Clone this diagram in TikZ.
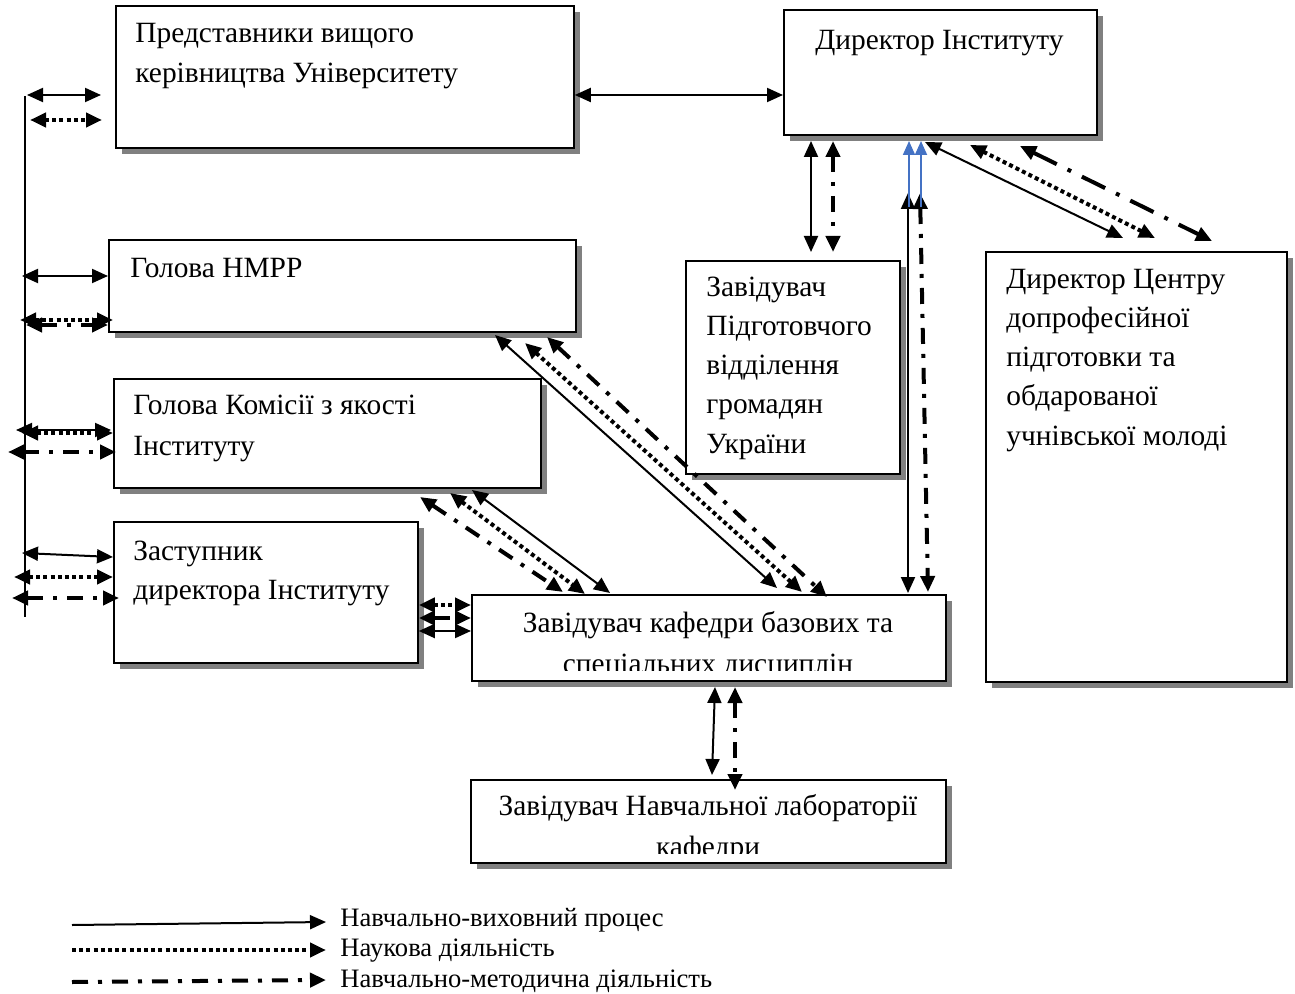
\documentclass[tikz,border=0pt]{standalone}
\usepackage{fontspec}
\setmainfont{Liberation Serif}
\usetikzlibrary{arrows.meta,shadows}
\definecolor{arrblue}{HTML}{4472C4}
\tikzset{
  boxs/.style={draw, fill=white, line width=0.9pt, inner sep=0pt, anchor=north west,
    drop shadow={shadow xshift=3pt, shadow yshift=-3pt, fill=black!50, opacity=1}},
  txt/.style={inner sep=0pt, anchor=base west, font=\fontsize{14.7}{19.5}\selectfont},
  txtc/.style={inner sep=0pt, anchor=base, font=\fontsize{14.7}{19.5}\selectfont},
  legt/.style={inner sep=0pt, anchor=base west, font=\fontsize{13.3}{15}\selectfont},
  tip/.tip={Triangle[length=8pt,width=7pt]},
  both/.style={tip-tip},
  one/.style={-tip},
  solidc/.style={line width=1pt},
  dotc/.style={line width=2pt, dash pattern=on 2pt off 1.6pt},
  dashdotc/.style={line width=2pt, dash pattern=on 8pt off 5pt on 2pt off 5pt},
  longdd/.style={line width=2pt, dash pattern=on 13pt off 6pt on 2pt off 6pt},
  bluec/.style={line width=0.9pt, draw=arrblue, -{Triangle[length=7pt,width=6pt,fill=arrblue]}}
}
\newcommand\mkbox[5]{\node[boxs, minimum width={(#4-#2)*0.5pt}, minimum height={(#5-#3)*0.5pt}] (#1) at (#2,#3) {};}
\begin{document}
\begin{tikzpicture}[x=0.5pt,y=-0.5pt]
\useasboundingbox (0,0) rectangle (1295,994);
% boxes
\mkbox{rep}{115}{5}{573}{147}
\mkbox{dir}{783}{9}{1096}{134}
\mkbox{nmrr}{108}{239}{575}{331}
\mkbox{kom}{113}{378}{540}{487}
\mkbox{zast}{113}{521}{417}{662}
\mkbox{kaf}{471}{594}{945}{680}
\mkbox{lab}{470}{779}{945}{862}
\mkbox{pid}{685}{260}{899}{473}
\mkbox{cen}{985}{251}{1286}{681}
% texts
\node[txt] (rep1) at (135,43) {Представники вищого};
\node[txt] (rep2) at (135,83) {керівництва Університету};
\node[txt] (dir1) at (815,50) {Директор Інституту};
\node[txt] (nm1) at (130,278) {Голова НМРР};
\node[txt] (ko1) at (133,415) {Голова Комісії з якості};
\node[txt] (ko2) at (133,455) {Інституту};
\node[txt] (za1) at (133,560) {Заступник};
\node[txt] (za2) at (133,599) {директора Інституту};
\node[txt] (pi1) at (706,297) {Завідувач};
\node[txt] (pi2) at (706,336) {Підготовчого};
\node[txt] (pi3) at (706,375) {відділення};
\node[txt] (pi4) at (706,414) {громадян};
\node[txt] (pi5) at (706,453) {України};
\node[txt] (ce1) at (1006,289) {Директор Центру};
\node[txt] (ce2) at (1006,328) {допрофесійної};
\node[txt] (ce3) at (1006,367) {підготовки та};
\node[txt] (ce4) at (1006,406) {обдарованої};
\node[txt] (ce5) at (1006,445) {учнівської молоді};
\node[txtc] (ka1) at (708,632) {Завідувач кафедри базових та};
\begin{scope}
\clip (471,594) rectangle (945,670);
\node[txtc] (ka2) at (708,673) {спеціальних дисциплін};
\end{scope}
\node[txtc] (la1) at (708,815) {Завідувач Навчальної лабораторії};
\begin{scope}
\clip (470,779) rectangle (945,853);
\node[txtc] (la2) at (708,856) {кафедри};
\end{scope}
% left bus
\coordinate (busT) at (25,96);
\coordinate (busB) at (25,617);
\draw[solidc] (busT) -- (busB);
\coordinate (l1a) at (27,95);  \coordinate (l1b) at (101,95);
\coordinate (l2a) at (30,120); \coordinate (l2b) at (102,120);
\coordinate (l3a) at (22,276); \coordinate (l3b) at (nmrr.west |- 0,276);
\coordinate (l4a) at (20,320); \coordinate (l4b) at (113,320);
\coordinate (l5a) at (26,325); \coordinate (l5b) at (nmrr.west |- 0,325);
\coordinate (l6a) at (16,430); \coordinate (l6b) at (111,430);
\coordinate (l7a) at (22,433); \coordinate (l7b) at (kom.west |- 0,433);
\coordinate (l8a) at (8,452);  \coordinate (l8b) at (116,452);
\coordinate (l9a) at (22,553); \coordinate (l9b) at (zast.west |- 0,557);
\coordinate (l10a) at (14,577); \coordinate (l10b) at (zast.west |- 0,577);
\coordinate (l11a) at (12,598); \coordinate (l11b) at (119,598);
\draw[solidc,both] (l1a) -- (l1b);
\draw[dotc,both] (l2a) -- (l2b);
\draw[solidc,both] (l3a) -- (l3b);
\draw[dotc,both] (l4a) -- (l4b);
\draw[dashdotc,both] (l5a) -- (l5b);
\draw[solidc,both] (l6a) -- (l6b);
\draw[dotc,both] (l7a) -- (l7b);
\draw[dashdotc,both] (l8a) -- (l8b);
\draw[solidc,both] (l9a) -- (l9b);
\draw[dotc,both] (l10a) -- (l10b);
\draw[dashdotc,both] (l11a) -- (l11b);
% rep <-> dir
\draw[solidc,both] (rep.east |- 0,95) -- (dir.west |- 0,95);
% zast <-> kaf
\draw[dotc,both] (zast.east |- 0,605) -- (kaf.west |- 0,605);
\draw[dashdotc,both] (zast.east |- 0,618) -- (kaf.west |- 0,618);
\draw[solidc,both] (zast.east |- 0,631) -- (kaf.west |- 0,631);
% kom <-> kaf
\draw[solidc,both] (472,490) -- (610,593);
\draw[dotc,both] (450,493) -- (585,594);
\draw[dashdotc,both] (420,497) -- (563,592);
% nmrr <-> kaf
\draw[solidc,both] (495,335) -- (777,588);
\draw[dotc,both] (525,343) -- (802,592);
\draw[dashdotc,both] (547,337) -- (827,597);
% dir <-> pid
\draw[solidc,both] (811,141) -- (811,252);
\draw[dashdotc,both] (833,141) -- (833,252);
% dir <-> kaf (vertical)
\draw[solidc,both] (908,193) -- (908,593);
\draw[dashdotc,both] (920,193) -- (928,592);
\draw[bluec] (909,207) -- (909,141);
\draw[bluec] (921,207) -- (921,141);
% dir <-> cen
\draw[solidc,both] (925,142) -- (1123,238);
\draw[dotc,both] (970,145) -- (1155,238);
\draw[longdd,both] (1020,146) -- (1212,241);
% kaf <-> lab
\draw[solidc,both] (715,687) -- (712,775);
\draw[dashdotc,both] (735,687) -- (735,790);
% legend
\coordinate (g1a) at (72,925); \coordinate (g1b) at (326,922);
\coordinate (g2a) at (72,950); \coordinate (g2b) at (326,950);
\coordinate (g3a) at (72,982); \coordinate (g3b) at (326,980);
\draw[solidc,one] (g1a) -- (g1b);
\draw[dotc,one] (g2a) -- (g2b);
\draw[dashdotc,one] (g3a) -- (g3b);
\node[legt] (lg1) at (340,926) {Навчально-виховний процес};
\node[legt] (lg2) at (340,956) {Наукова діяльність};
\node[legt] (lg3) at (340,987) {Навчально-методична діяльність};
\end{tikzpicture}
\end{document}
